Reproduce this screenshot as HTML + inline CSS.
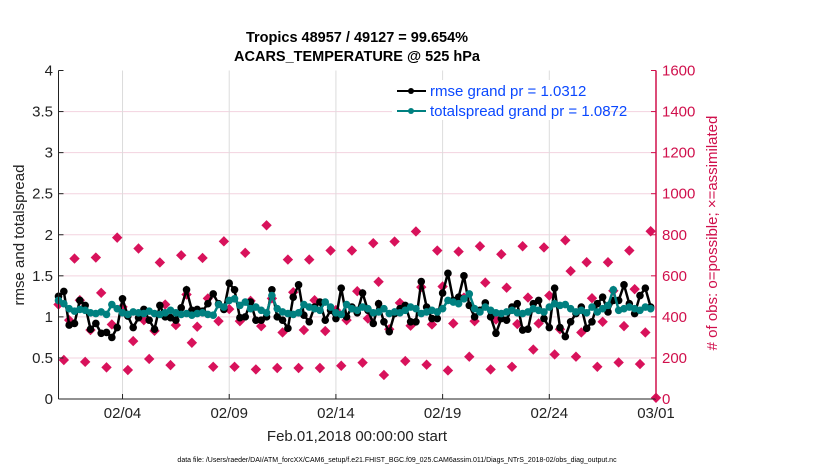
<!DOCTYPE html>
<html><head><meta charset="utf-8"><style>
html,body{margin:0;padding:0;background:#fff;}
svg{display:block;font-family:"Liberation Sans",Arial,sans-serif;}
</style></head><body>
<svg id="chart" width="830" height="470" viewBox="0 0 830 470" xmlns="http://www.w3.org/2000/svg">
<g id="grid"></g>
<g id="marks"></g>
<g id="axes"></g>
<text x="357" y="42" text-anchor="middle" font-size="14.5" font-weight="bold" fill="#000">Tropics 48957 / 49127 = 99.654%</text>
<text x="357" y="61" text-anchor="middle" font-size="14.5" font-weight="bold" fill="#000">ACARS_TEMPERATURE @ 525 hPa</text>
<text transform="translate(24,235) rotate(-90)" text-anchor="middle" font-size="15" fill="#222">rmse and totalspread</text>
<text transform="translate(717,233) rotate(-90)" text-anchor="middle" font-size="15" fill="#d0104c"># of obs: o=possible; ×=assimilated</text>
<text x="357" y="441" text-anchor="middle" font-size="15" fill="#222">Feb.01,2018 00:00:00 start</text>
<text x="397" y="462" text-anchor="middle" font-size="7" fill="#000">data file: /Users/raeder/DAI/ATM_forcXX/CAM6_setup/f.e21.FHIST_BGC.f09_025.CAM6assim.011/Diags_NTrS_2018-02/obs_diag_output.nc</text>
<g>
<rect x="392" y="80" width="210" height="40" fill="#fff"/>
<line x1="397" y1="91" x2="426" y2="91" stroke="#000" stroke-width="2"/>
<circle cx="411" cy="91" r="3" fill="#000"/>
<text x="430" y="96" font-size="15" fill="#0a48ff">rmse grand pr = 1.0312</text>
<line x1="397" y1="111" x2="426" y2="111" stroke="#008080" stroke-width="2"/>
<circle cx="411" cy="111" r="3" fill="#008080"/>
<text x="430" y="116" font-size="15" fill="#0a48ff">totalspread grand pr = 1.0872</text>
</g>
</svg>
<script>
const obsCounts = [460,190,384,684,481,181,336,689,517,154,363,786,449,141,282,733,384,195,332,665,460,165,360,700,509,274,352,687,490,157,379,768,438,157,379,712,478,144,355,846,490,151,324,679,520,151,336,679,481,151,331,723,433,162,384,723,525,177,392,759,571,117,340,767,468,185,357,816,545,167,363,723,548,139,368,718,494,206,379,744,567,144,387,705,542,157,365,744,494,241,368,738,504,217,340,773,623,206,324,666,491,157,376,666,527,178,355,723,535,170,324,817,6];
const rmse = [1.25,1.31,0.90,0.92,1.20,1.14,0.85,0.92,0.80,0.81,0.75,0.87,1.22,1.01,0.87,0.99,1.09,0.96,0.85,1.14,1.00,0.99,0.96,1.11,1.33,1.08,1.09,1.07,1.16,1.28,1.16,1.09,1.41,1.33,0.99,1.00,1.18,0.96,0.96,1.00,1.33,1.00,0.96,0.86,1.24,1.39,1.02,0.94,1.12,1.18,0.96,1.08,0.98,1.35,1.00,1.12,1.05,1.29,1.08,0.92,1.16,0.94,0.82,1.04,1.10,1.14,0.94,0.94,1.43,1.12,0.98,0.98,1.29,1.53,1.20,1.24,1.50,1.14,1.00,1.08,1.17,1.00,0.80,0.98,0.96,1.12,1.16,0.84,0.85,1.16,1.20,0.98,0.87,1.35,0.87,0.76,0.94,1.04,1.12,0.86,0.94,1.16,1.24,1.06,1.20,1.20,1.39,1.16,1.04,1.26,1.35,1.12];
const spread = [1.20,1.16,1.10,1.07,1.09,1.08,1.05,1.04,1.06,1.03,1.15,1.10,1.05,1.03,1.06,1.05,1.04,1.07,1.04,1.03,1.05,1.08,1.05,1.03,1.04,1.02,1.04,1.05,1.03,1.02,1.15,1.12,1.20,1.22,1.14,1.18,1.10,1.12,1.08,1.05,1.26,1.10,1.06,1.04,1.03,1.05,1.15,1.12,1.10,1.08,1.18,1.12,1.05,1.03,1.15,1.10,1.08,1.12,1.10,1.05,1.06,1.10,1.04,1.06,1.05,1.08,1.12,1.10,1.04,1.06,1.08,1.06,1.10,1.20,1.18,1.16,1.22,1.28,1.10,1.06,1.12,1.08,1.05,1.04,1.06,1.08,1.05,1.04,1.06,1.10,1.08,1.06,1.12,1.16,1.14,1.15,1.10,1.06,1.08,1.05,1.12,1.06,1.10,1.14,1.33,1.08,1.10,1.12,1.10,1.08,1.12,1.10];
const leftTicks = ["0","0.5","1","1.5","2","2.5","3","3.5","4"];
const rightTicks = ["0","200","400","600","800","1000","1200","1400","1600"];
const dateTicks = ["02/04","02/09","02/14","02/19","02/24","03/01"];
const dateTickDays = [3,8,13,18,23,28];

const NS="http://www.w3.org/2000/svg";
const X0=58.5,X1=656,Y0=399,Y1=70.5;
const xDay = d => X0 + (X1-X0)*d/28;
const xIdx = i => xDay(i/4);
const yL = v => Y0 - (Y0-Y1)*v/4;
const yR = v => Y0 - (Y0-Y1)*v/1600;
function mk(tag,attrs,parent){const e=document.createElementNS(NS,tag);for(const k in attrs)e.setAttribute(k,attrs[k]);parent.appendChild(e);return e;}
const grid=document.getElementById('grid'),marks=document.getElementById('marks'),axes=document.getElementById('axes');

leftTicks.forEach((t,i)=>{
  const v=parseFloat(t),y=yL(v);
  if(v>0&&v<4){const g=mk('line',{x1:X0,x2:X1,y1:y,y2:y,stroke:'#f3d3df','stroke-width':1},grid);
  
  }
  const tk=mk('line',{x1:X0,x2:X0+5,y1:y,y2:y,stroke:'#222'},axes);
  
  
  const tx=mk('text',{x:53,y:y+5,'text-anchor':'end','font-size':15,fill:'#222'},axes);tx.textContent=t;
  
  
});
rightTicks.forEach(t=>{
  const y=yR(parseFloat(t));
  const tk=mk('line',{x1:X1-5,x2:X1,y1:y,y2:y,stroke:'#d0104c'},axes);
  
  
  const tx=mk('text',{x:662,y:y+5,'font-size':15,fill:'#d0104c'},axes);tx.textContent=t;
  
  
});
dateTicks.forEach((t,i)=>{
  const x=xDay(dateTickDays[i]);
  if(dateTickDays[i]<28){const g=mk('line',{x1:x,x2:x,y1:Y1,y2:Y0,stroke:'#dcdcdc'},grid);
  
  }
  const tk=mk('line',{x1:x,x2:x,y1:Y0,y2:Y0-5,stroke:'#222'},axes);
  
  
  const tx=mk('text',{x:x,y:418,'text-anchor':'middle','font-size':15,fill:'#222'},axes);tx.textContent=t;
  
  
});
const la=mk('line',{x1:X0,x2:X0,y1:Y1,y2:Y0,stroke:'#222','stroke-width':1},axes);


const ba=mk('line',{x1:X0,x2:X1,y1:Y0,y2:Y0,stroke:'#222','stroke-width':1},axes);


const ra=mk('line',{x1:X1,x2:X1,y1:Y1,y2:Y0,stroke:'#d0104c','stroke-width':1.5},axes);



obsCounts.forEach((v,i)=>{
  const x=xIdx(i),y=yR(v),r=5.2;
  const d=mk('path',{d:`M${x} ${y-r}L${x+r} ${y}L${x} ${y+r}L${x-r} ${y}Z`,fill:'#d8125b'},marks);
  
  
});
function series(arr,color,name){
  const pts=arr.map((v,i)=>xIdx(i).toFixed(1)+','+yL(v).toFixed(1)).join(' ');
  const l=mk('polyline',{points:pts,fill:'none',stroke:color,'stroke-width':2.5},marks);
  
  
  arr.forEach((v,i)=>{
    const c=mk('circle',{cx:xIdx(i),cy:yL(v),r:3.8,fill:color},marks);
    
    
  });
}
series(rmse,'#000','rmse');
series(spread,'#008080','totalspread');
</script>
</body></html>
